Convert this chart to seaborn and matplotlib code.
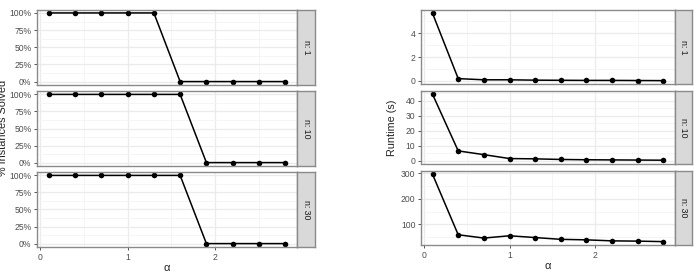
import matplotlib
matplotlib.use("Agg")
import matplotlib.pyplot as plt
import matplotlib.ticker as mticker
import seaborn as sns
import pandas as pd

# data
alpha = [0.1, 0.4, 0.7, 1.0, 1.3, 1.6, 1.9, 2.2, 2.5, 2.8]
n_labels = ["n: 1", "n: 10", "n: 30"]

solved_n1 = [100, 100, 100, 100, 100, 0, 0, 0, 0, 0]
solved_n10 = [100, 100, 100, 100, 100, 100, 0, 0, 0, 0]
solved_n30 = [100, 100, 100, 100, 100, 100, 0, 0, 0, 0]

runtime_n1 = [5.67, 0.2, 0.1, 0.1, 0.07, 0.06, 0.05, 0.05, 0.04, 0.03]
runtime_n10 = [44.3, 6.6, 4.1, 1.5, 1.3, 0.9, 0.7, 0.6, 0.5, 0.4]
runtime_n30 = [296, 59, 46, 55, 48, 41, 39, 35, 34, 32]

solved_ticks = [0, 25, 50, 75, 100]
runtime_ticks = [[0, 2, 4], [0, 10, 20, 30, 40], [100, 200, 300]]
runtime_minor = [1, 5, 50]
x_ticks = [0, 1, 2]

rows = []
for lab, s, r in zip(n_labels, [solved_n1, solved_n10, solved_n30],
                     [runtime_n1, runtime_n10, runtime_n30]):
    for a, sv, rv in zip(alpha, s, r):
        rows.append({"n": lab, "alpha": a, "solved": sv, "runtime": rv})
df = pd.DataFrame(rows)

sns.set_style("white")
plt.rcParams["font.family"] = ["Liberation Sans", "DejaVu Sans"]

W, H = 698, 274
fig = plt.figure(figsize=(W / 100, H / 100), dpi=100)

BORDER = "#8a8a8a"
GRID = "#ebebeb"
GRID_MINOR = "#f4f4f4"
TICKLAB = "#4d4d4d"


def add_px_axes(x0, y0, x1, y1):
    return fig.add_axes([x0 / W, 1 - y1 / H, (x1 - x0) / W, (y1 - y0) / H])


def style_panel(ax, yticks, ymin, ymax, yminor, fmt=None, show_x=False):
    ax.set_xlim(-0.035, 2.935)
    ax.set_ylim(ymin, ymax)
    ax.set_xticks(x_ticks)
    ax.xaxis.set_minor_locator(mticker.MultipleLocator(0.5))
    ax.set_yticks(yticks)
    ax.yaxis.set_minor_locator(mticker.FixedLocator(yminor))
    if fmt:
        ax.set_yticklabels([fmt(t) for t in yticks])
    ax.grid(True, which="major", color=GRID, lw=0.9)
    ax.grid(True, which="minor", color=GRID_MINOR, lw=0.6)
    ax.set_axisbelow(True)
    for sp in ax.spines.values():
        sp.set_color(BORDER)
        sp.set_linewidth(1.0)
    ax.tick_params(axis="both", which="major", length=2.5, width=0.7,
                   color="#555555", labelsize=6.2, labelcolor=TICKLAB, pad=1.5,
                   left=True, bottom=show_x, labelbottom=show_x)
    ax.tick_params(axis="both", which="minor", length=0)
    ax.set_xlabel("")
    ax.set_ylabel("")
    if show_x:
        ax.set_xlabel("α", fontsize=8, color="#222222", labelpad=1)


def add_strip(x0, y0, x1, y1, text):
    sax = add_px_axes(x0, y0, x1, y1)
    sax.set_facecolor("#d9d9d9")
    sax.set_xticks([])
    sax.set_yticks([])
    for sp in sax.spines.values():
        sp.set_color(BORDER)
        sp.set_linewidth(1.0)
    sax.text(0.5, 0.5, text, rotation=-90, ha="center", va="center",
             fontsize=6.3, color="#1a1a1a", transform=sax.transAxes)


# left chart: % instances solved
left_rows = [(9.5, 85), (91, 166), (172, 247)]
for i, (lab, (y0, y1)) in enumerate(zip(n_labels, left_rows)):
    ax = add_px_axes(37, y0, 297, y1)
    sns.lineplot(data=df[df["n"] == lab], x="alpha", y="solved", ax=ax,
                 color="black", lw=1.1, marker="o", markersize=4,
                 markeredgewidth=0)
    style_panel(ax, solved_ticks, -5, 105, [12.5, 37.5, 62.5, 87.5],
                fmt=lambda t: f"{t}%", show_x=(i == 2))
    add_strip(297, y0, 315, y1, lab)

fig.text(3.5 / W, 1 - 128 / H, "% Instances Solved", rotation=90,
         ha="center", va="center", fontsize=7.8, color="#222222")

# right chart: runtime
right_rows = [(10, 84), (91, 163.5), (171, 245)]
for i, (lab, (y0, y1)) in enumerate(zip(n_labels, right_rows)):
    ax = add_px_axes(421, y0, 675, y1)
    sub = df[df["n"] == lab]
    sns.lineplot(data=sub, x="alpha", y="runtime", ax=ax,
                 color="black", lw=1.1, marker="o", markersize=4,
                 markeredgewidth=0)
    lo, hi = sub["runtime"].min(), sub["runtime"].max()
    pad = (hi - lo) * 0.05
    ymin, ymax = lo - pad, hi + pad
    step = runtime_minor[i] * 2
    minor = [t + step / 2 for t in range(-step * 2, int(ymax) + step, step)]
    minor = [m for m in minor if ymin < m < ymax]
    style_panel(ax, runtime_ticks[i], ymin, ymax, minor, show_x=(i == 2))
    add_strip(675, y0, 692, y1, lab)

fig.text(392 / W, 1 - 128 / H, "Runtime (s)", rotation=90,
         ha="center", va="center", fontsize=7.8, color="#222222")

fig.savefig("out.png", dpi=100)
